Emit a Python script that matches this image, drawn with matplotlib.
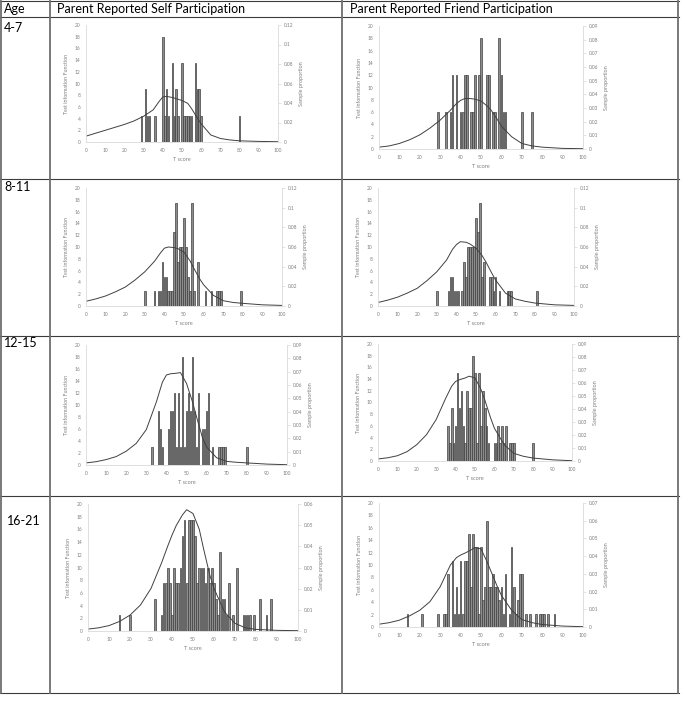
import matplotlib
matplotlib.use("Agg")
import matplotlib.pyplot as plt
from matplotlib.ticker import FuncFormatter, MultipleLocator

plt.rcParams["font.family"] = ["Lato", "DejaVu Sans"]

W, H = 685, 711

# Table text
age_groups = ["4-7", "8-11", "12-15", "16-21"]
column_titles = ["Parent Reported Self Participation", "Parent Reported Friend Participation"]

# Test information function, read at these T scores
tif_t = [0, 5, 10, 15, 20, 25, 30, 35, 38, 40, 42, 45, 47, 50, 53, 55, 58, 60, 65, 70, 75, 80, 90, 100]

self_4_7_tif = [1.0, 1.5, 2.0, 2.5, 3.0, 3.6, 4.4, 5.5, 6.9, 7.7, 7.8, 7.6, 7.4, 7.1, 6.6, 5.7, 4.1, 3.1, 1.2, 0.6, 0.35, 0.2, 0.1, 0.05]
friend_4_7_tif = [0.3, 0.5, 0.9, 1.5, 2.3, 3.4, 4.7, 6.3, 7.4, 7.9, 8.2, 8.2, 8.1, 7.8, 7.0, 6.3, 4.8, 3.7, 2.0, 0.9, 0.5, 0.3, 0.1, 0.05]
self_8_11_tif = [0.8, 1.2, 1.7, 2.4, 3.2, 4.4, 5.8, 7.6, 9.0, 9.8, 10.0, 9.9, 9.7, 9.1, 7.7, 6.4, 4.6, 3.6, 1.8, 0.9, 0.6, 0.45, 0.2, 0.1]
friend_8_11_tif = [0.6, 1.0, 1.5, 2.2, 3.0, 4.3, 5.8, 7.8, 9.6, 10.4, 10.9, 10.8, 10.5, 9.8, 8.6, 7.5, 5.6, 4.4, 2.2, 1.2, 0.8, 0.5, 0.2, 0.1]
self_12_15_tif = [0.35, 0.55, 0.9, 1.4, 2.3, 3.6, 5.9, 10.5, 13.8, 15.0, 15.2, 15.3, 15.4, 13.6, 10.5, 8.0, 4.5, 3.0, 1.2, 0.6, 0.45, 0.35, 0.15, 0.05]
friend_12_15_tif = [0.35, 0.55, 0.9, 1.6, 2.8, 4.5, 7.1, 10.8, 12.8, 13.6, 13.9, 14.2, 14.5, 14.2, 12.3, 10.5, 7.4, 5.6, 2.8, 1.3, 0.8, 0.5, 0.2, 0.05]
self_16_21_tif = [0.3, 0.5, 0.85, 1.5, 2.5, 4.1, 6.7, 10.7, 13.4, 15.1, 16.6, 18.3, 19.1, 18.5, 16.0, 13.0, 8.8, 6.7, 3.0, 1.2, 0.5, 0.25, 0.1, 0.05]
friend_16_21_tif = [0.45, 0.7, 1.1, 1.8, 2.7, 4.1, 6.5, 10.0, 11.2, 11.6, 11.9, 12.4, 12.8, 12.6, 10.5, 8.9, 6.5, 5.1, 2.7, 1.2, 0.7, 0.4, 0.15, 0.05]

# Sample proportion at each T score
self_4_7_t = [29, 31, 32, 33, 36, 40, 41, 42, 43, 45, 46, 47, 48, 50, 51, 52, 53, 54, 55, 57, 58, 59, 60, 80]
self_4_7_p = [0.027, 0.054, 0.027, 0.027, 0.027, 0.108, 0.027, 0.054, 0.027, 0.081, 0.027, 0.054, 0.027, 0.081,
              0.027, 0.027, 0.027, 0.027, 0.027, 0.081, 0.054, 0.054, 0.027, 0.027]

friend_4_7_t = [29, 33, 35, 36, 38, 40, 41, 42, 43, 45, 46, 47, 49, 50, 53, 54, 56, 57, 59, 60, 61, 62, 70, 75]
friend_4_7_p = [0.027, 0.027, 0.027, 0.054, 0.054, 0.027, 0.027, 0.054, 0.054, 0.027, 0.027, 0.054, 0.054, 0.081,
                0.054, 0.054, 0.027, 0.027, 0.081, 0.054, 0.027, 0.027, 0.027, 0.027]

self_8_11_t = [30, 35, 37, 38, 39, 40, 41, 42, 43, 44, 45, 46, 47, 48, 49, 50, 51, 52, 53, 54, 55, 57, 61, 64, 67, 68, 69, 79]
self_8_11_p = [0.015, 0.015, 0.015, 0.015, 0.045, 0.03, 0.03, 0.015, 0.015, 0.015, 0.075, 0.105, 0.045, 0.06,
               0.06, 0.09, 0.06, 0.03, 0.015, 0.105, 0.015, 0.045, 0.015, 0.015, 0.015, 0.015, 0.015, 0.015]

friend_8_11_t = [30, 36, 37, 38, 39, 40, 41, 43, 44, 45, 46, 47, 48, 49, 50, 51, 52, 53, 54, 57, 58, 59, 60, 62, 66, 67, 68, 81]
friend_8_11_p = [0.015, 0.015, 0.03, 0.03, 0.015, 0.015, 0.015, 0.015, 0.045, 0.03, 0.06, 0.06, 0.06, 0.06,
                 0.09, 0.075, 0.105, 0.03, 0.045, 0.03, 0.03, 0.015, 0.03, 0.015, 0.015, 0.015, 0.015, 0.015]

self_12_15_t = [33, 36, 37, 38, 41, 42, 43, 44, 45, 46, 47, 48, 49, 50, 51, 52, 53, 54, 55, 56, 58, 59, 60, 61, 63,
                66, 67, 68, 69, 80]
self_12_15_p = [0.0135, 0.0405, 0.027, 0.0135, 0.027, 0.0405, 0.0405, 0.054, 0.0135, 0.054, 0.0135, 0.081, 0.0135,
                0.0405, 0.054, 0.0405, 0.081, 0.0405, 0.0135, 0.054, 0.027, 0.027, 0.0405, 0.054, 0.0135,
                0.0135, 0.0135, 0.0135, 0.0135, 0.0135]

friend_12_15_t = [36, 37, 38, 39, 40, 41, 42, 43, 44, 45, 46, 47, 48, 49, 50, 51, 52, 53, 54, 55, 56, 57, 60, 61, 62,
                  63, 64, 65, 66, 68, 69, 70, 80]
friend_12_15_p = [0.027, 0.0135, 0.0405, 0.0135, 0.027, 0.0675, 0.0405, 0.054, 0.027, 0.0135, 0.054, 0.0405, 0.0405,
                  0.081, 0.0675, 0.0135, 0.0675, 0.027, 0.054, 0.0405, 0.027, 0.0135, 0.0135, 0.0135, 0.027,
                  0.0135, 0.027, 0.0135, 0.027, 0.0135, 0.0135, 0.0135, 0.0135]

self_16_21_t = [15, 20, 32, 35, 36, 37, 38, 39, 40, 41, 42, 43, 44, 45, 46, 47, 48, 49, 50, 51, 52, 53, 54, 55, 56,
                57, 58, 59, 60, 61, 62, 63, 64, 65, 66, 67, 69, 71, 74, 75, 76, 77, 79, 82, 85, 87]
self_16_21_p = [0.0075, 0.0075, 0.015, 0.0075, 0.0225, 0.0225, 0.03, 0.0225, 0.0075, 0.03, 0.0225, 0.0225, 0.03,
                0.045, 0.0525, 0.0225, 0.0525, 0.0525, 0.0525, 0.045, 0.0225, 0.03, 0.03, 0.03, 0.0225,
                0.03, 0.0225, 0.03, 0.0225, 0.015, 0.0075, 0.0375, 0.015, 0.015, 0.0075, 0.0225, 0.0075, 0.03,
                0.0075, 0.0075, 0.0075, 0.0075, 0.0075, 0.015, 0.0075, 0.015]

friend_16_21_t = [14, 21, 29, 32, 33, 34, 36, 37, 38, 39, 40, 41, 42, 43, 44, 45, 46, 47, 48, 49, 50, 51, 52, 53, 54,
                  55, 56, 57, 58, 59, 60, 61, 62, 64, 65, 66, 67, 68, 69, 70, 72, 74, 77, 79, 80, 81, 83, 86]
friend_16_21_p = [0.0075, 0.0075, 0.0075, 0.0075, 0.0075, 0.03, 0.0375, 0.0075, 0.0225, 0.0075, 0.0375, 0.0075,
                  0.0375, 0.0375, 0.0525, 0.0225, 0.0525, 0.045, 0.045, 0.0075, 0.045, 0.015, 0.0225, 0.06,
                  0.0225, 0.0225, 0.03, 0.0225, 0.0225, 0.015, 0.0225, 0.0075, 0.03, 0.0075, 0.045, 0.0225,
                  0.0075, 0.015, 0.03, 0.03, 0.0075, 0.0075, 0.0075, 0.0075, 0.0075, 0.0075, 0.0075, 0.0075]

# Right axis upper limits
prop_max = [0.12, 0.09, 0.12, 0.12, 0.09, 0.09, 0.06, 0.07]

panels = [
    (self_4_7_t, self_4_7_p, self_4_7_tif), (friend_4_7_t, friend_4_7_p, friend_4_7_tif),
    (self_8_11_t, self_8_11_p, self_8_11_tif), (friend_8_11_t, friend_8_11_p, friend_8_11_tif),
    (self_12_15_t, self_12_15_p, self_12_15_tif), (friend_12_15_t, friend_12_15_p, friend_12_15_tif),
    (self_16_21_t, self_16_21_p, self_16_21_tif), (friend_16_21_t, friend_16_21_p, friend_16_21_tif),
]

# plot area boxes in pixels: left, top, right, bottom
boxes = [
    (86, 25, 278, 142), (379, 26, 583, 149),
    (86, 188, 282, 306), (378, 188, 574, 306),
    (86, 345, 287, 465), (378, 344, 572, 461),
    (88, 504, 298, 631), (379, 503, 583, 627),
]

fig = plt.figure(figsize=(W / 100, H / 100), dpi=100)

# table background
bg = fig.add_axes([0, 0, 1, 1])
bg.set_xlim(0, W)
bg.set_ylim(H, 0)
bg.axis("off")

row_lines = [1, 17, 179, 336, 496, 693]
for y in row_lines:
    bg.plot([0, 679], [y, y], color="#3c3c3c", lw=0.8)
for x in [1, 50, 342, 678]:
    bg.plot([x, x], [1, 693], color="#6e6e6e", lw=1.3)

bg.text(4, 9, "Age", fontsize=9, va="center", ha="left")
bg.text(57, 9, column_titles[0], fontsize=9, va="center", ha="left")
bg.text(350, 9, column_titles[1], fontsize=9, va="center", ha="left")
for lab, y, x in zip(age_groups, [28, 187, 343, 521], [4, 4, 4, 7]):
    bg.text(x, y, lab, fontsize=9, va="center", ha="left")

grey = "#808080"
spine = "#d9d9d9"
fmt = FuncFormatter(lambda v, _: f"{round(v, 3):g}")

for (t, p, tif), pmax, (l, top, r, b) in zip(panels, prop_max, boxes):
    ax = fig.add_axes([l / W, 1 - b / H, (r - l) / W, (b - top) / H])
    ax2 = ax.twinx()
    ax.set_zorder(ax2.get_zorder() + 1)
    ax.patch.set_visible(False)

    ax2.bar(t, p, width=0.85, color="#8c8c8c", edgecolor="#404040", linewidth=0.5)
    ax.plot(tif_t, tif, color="#404040", lw=0.7)

    ax.set_xlim(0, 100)
    ax.set_ylim(0, 20)
    ax2.set_ylim(0, pmax)
    ax.xaxis.set_major_locator(MultipleLocator(10))
    ax.yaxis.set_major_locator(MultipleLocator(2))
    ax2.yaxis.set_major_locator(MultipleLocator(0.02 if pmax > 0.1 else 0.01))
    ax2.yaxis.set_major_formatter(fmt)

    for a in (ax, ax2):
        for s in a.spines.values():
            s.set_visible(False)
    ax.spines["left"].set_visible(True)
    ax.spines["bottom"].set_visible(True)
    ax2.spines["right"].set_visible(True)
    ax.spines["left"].set_color(spine)
    ax.spines["bottom"].set_color(spine)
    ax2.spines["right"].set_color(spine)
    for s in ("left", "bottom"):
        ax.spines[s].set_linewidth(0.6)
    ax2.spines["right"].set_linewidth(0.6)

    ax.tick_params(axis="both", length=0, labelsize=3.5, labelcolor=grey, pad=4)
    ax2.tick_params(axis="y", length=2, width=0.5, color=spine, labelsize=3.5, labelcolor=grey, pad=2)

    ax.set_xlabel("T score", fontsize=4, color=grey, labelpad=3)
    ax.set_ylabel("Test information Function", fontsize=3.8, color=grey, labelpad=4)
    ax2.set_ylabel("Sample proportion", fontsize=4, color=grey, labelpad=4)

fig.savefig("out.png", dpi=100)
